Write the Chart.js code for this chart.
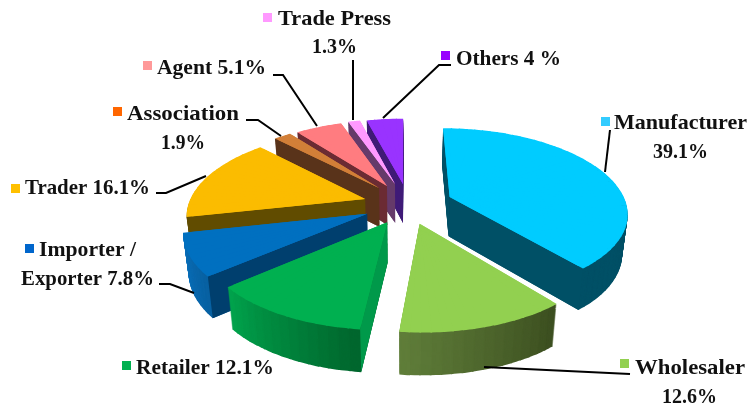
<!DOCTYPE html>
<html>
<head>
<meta charset="utf-8">
<style>
  html, body { margin: 0; padding: 0; background: #fff; }
  canvas { display: block; }
</style>
<script src="https://cdn.jsdelivr.net/npm/chart.js@4/dist/chart.umd.min.js"></script>
</head>
<body>
<canvas id="myChart" width="751" height="410"></canvas>
<script>
// slices, clockwise from twelve o'clock
const categories = ["Manufacturer", "Wholesaler", "Retailer", "Importer / Exporter", "Trader", "Association", "Agent", "Trade Press", "Others"];
const shares = [39.1, 12.6, 12.1, 7.8, 16.1, 1.9, 5.1, 1.3, 4];

const topColors = ["#00ccff", "#92d050", "#00b050", "#0070c0", "#fbbc00", "#d27f38", "#ff7c80", "#ff99ff", "#9933ff"];
const markerColors = ["#33ccff", "#92d050", "#00b050", "#0066cc", "#ffc000", "#ff6600", "#ff9999", "#ff99ff", "#9900ff"];
// outer wall, start of slice -> end of slice
const rimColors = [["#005066", "#005066"], ["#3c4e20", "#607f3a"], ["#00652d", "#00a44d"], ["#0860a0", "#0a72be"], ["#614c00", "#614c00"], ["#59331a", "#59331a"], ["#6b2b33", "#6b2b33"], ["#653a6a", "#653a6a"], ["#3f1a77", "#3f1a77"]];
const sideColors = ["#005066", "#3c4e20", "#00994a", "#003f6e", "#614c00", "#59331a", "#6b2b33", "#653a6a", "#3f1a77"];

// how far each slice is pulled out, in radii (x, towards the viewer)
const explodeU = [0.262, 0.085, -0.091, -0.204, -0.222, -0.146, -0.100, -0.053, -0.006];
const explodeV = [-0.097, 0.218, 0.200, 0.105, -0.072, -0.211, -0.237, -0.263, -0.263];

// back to front
const paintOrder = [8, 7, 6, 5, 4, 0, 3, 1, 2];

const labelFont = "bold 22px 'Liberation Serif'";
// each text line: string, left, baseline, width
const labelBoxes = [
    { i: 0, box: [601, 117], lines: [["Manufacturer", 614, 129, 133], ["39.1%", 653, 158, 55]], leader: [[610, 130], [605, 172]] },
    { i: 1, box: [620, 359], lines: [["Wholesaler", 635, 374, 110], ["12.6%", 662, 403, 55]], leader: [[484, 367], [630, 374]] },
    { i: 2, box: [122, 361], lines: [["Retailer 12.1%", 136, 374, 138]], leader: [] },
    { i: 3, box: [25, 244], lines: [["Importer /", 39, 256, 97], ["Exporter 7.8%", 21, 285, 133]], leader: [[159, 284], [170, 284], [194, 293]] },
    { i: 4, box: [11, 184], lines: [["Trader 16.1%", 25, 194, 125]], leader: [[156, 193], [166, 193], [206, 176]] },
    { i: 5, box: [113, 107], lines: [["Association", 127, 120, 112], ["1.9%", 161, 149, 44]], leader: [[246, 120], [258, 120], [281, 136]] },
    { i: 6, box: [143, 61], lines: [["Agent 5.1%", 157, 74, 109]], leader: [[273, 75], [283, 75], [317, 126]] },
    { i: 7, box: [263, 13], lines: [["Trade Press", 278, 25, 113], ["1.3%", 312, 53, 45]], leader: [[353, 60], [353, 120]] },
    { i: 8, box: [441, 51], lines: [["Others 4 %", 456, 65, 105]], leader: [[451, 65], [439, 65], [383, 118]] }
];

// perspective of the ground plane
const cx = 404, cy = 205, scaleX = 177, scaleY = 83, persp = 0.17, depth = 39.5;

function project(u, v, z) {
    const k = 1 - persp * v;
    const x = cx + scaleX * u / k;
    const y = cy + scaleY * v / k;
    return [cx + (x - cx) * (1 - 0.025 * z), y + depth * (1 + 0.07 * v) * z];
}

function mix(a, b, t) {
    const pa = parseInt(a.slice(1), 16), pb = parseInt(b.slice(1), 16);
    const c = [16, 8, 0].map(s => Math.round(((pa >> s) & 255) * (1 - t) + ((pb >> s) & 255) * t));
    return `rgb(${c[0]},${c[1]},${c[2]})`;
}

// draws one narrow piece of an arc element, mapped onto the ground plane at height z
function drawPiece(ctx, arc, i, a0, a1, z, color) {
    const r = arc.outerRadius;
    const eu = explodeU[i], ev = explodeV[i];
    const O = project(eu, ev, z);
    const A = project(eu + Math.cos(a0), ev + Math.sin(a0), z);
    const B = project(eu + Math.cos(a1), ev + Math.sin(a1), z);
    const s1x = r * Math.cos(a0), s1y = r * Math.sin(a0);
    const s2x = r * Math.cos(a1), s2y = r * Math.sin(a1);
    const d1x = A[0] - O[0], d1y = A[1] - O[1], d2x = B[0] - O[0], d2y = B[1] - O[1];
    const det = s1x * s2y - s2x * s1y;
    const a = (d1x * s2y - d2x * s1y) / det, c = (d2x * s1x - d1x * s2x) / det;
    const b = (d1y * s2y - d2y * s1y) / det, d = (d2y * s1x - d1y * s2x) / det;

    ctx.save();
    ctx.setTransform(a, b, c, d, O[0] - a * arc.x - c * arc.y, O[1] - b * arc.x - d * arc.y);
    const saved = [arc.startAngle, arc.endAngle, arc.circumference, arc.options];
    arc.startAngle = a0;
    arc.endAngle = a1;
    arc.circumference = a1 - a0;
    arc.options = { ...saved[3], backgroundColor: color, borderWidth: 0 };
    arc.draw(ctx);
    [arc.startAngle, arc.endAngle, arc.circumference, arc.options] = saved;
    ctx.restore();
}

function drawSlice(ctx, arc, i) {
    const start = arc.startAngle, end = arc.endAngle;
    const u = explodeU[i], v = explodeV[i];
    const step = Math.PI / 60, overlap = 0.008;
    const n = Math.max(1, Math.ceil((end - start) / step));
    const da = (end - start) / n;

    // outer wall: the slice stacked from the bottom up
    for (let z = 1; z > 0; z -= 1 / 42) {
        for (let k = 0; k < n; k++) {
            const a0 = start + k * da;
            const color = mix(rimColors[i][0], rimColors[i][1], (k + 0.5) / n);
            drawPiece(ctx, arc, i, a0, Math.min(end, a0 + da + overlap), z, color);
        }
    }

    // the straight wall that faces the viewer
    [[start, -1], [end, 1]].forEach(([a, side]) => {
        const p0 = project(u, v, 0), p1 = project(u + Math.cos(a), v + Math.sin(a), 0);
        if ((p1[0] - p0[0]) * side > 0) {
            const p2 = project(u + Math.cos(a), v + Math.sin(a), 1), p3 = project(u, v, 1);
            ctx.fillStyle = sideColors[i];
            ctx.beginPath();
            ctx.moveTo(p0[0], p0[1]);
            ctx.lineTo(p1[0], p1[1]);
            ctx.lineTo(p2[0], p2[1]);
            ctx.lineTo(p3[0], p3[1]);
            ctx.closePath();
            ctx.fill();
        }
    });

    // top face, over an inset fill so the seams between pieces don't show the wall
    const apex = project(u, v, 0);
    ctx.fillStyle = topColors[i];
    ctx.beginPath();
    ctx.moveTo(apex[0], apex[1]);
    for (let k = 0; k <= n; k++) {
        const a = start + k * da;
        const p = project(u + 0.97 * Math.cos(a), v + 0.97 * Math.sin(a), 0);
        ctx.lineTo(p[0], p[1]);
    }
    ctx.closePath();
    ctx.fill();
    for (let k = 0; k < n; k++) {
        const a0 = start + k * da;
        drawPiece(ctx, arc, i, a0, Math.min(end, a0 + da + overlap), 0, topColors[i]);
    }
}

function drawLabels(ctx) {
    ctx.font = labelFont;
    ctx.textBaseline = "alphabetic";
    ctx.textAlign = "left";
    labelBoxes.forEach(l => {
        ctx.strokeStyle = "#000";
        ctx.lineWidth = 2;
        if (l.leader.length) {
            ctx.beginPath();
            l.leader.forEach((p, j) => j ? ctx.lineTo(p[0], p[1]) : ctx.moveTo(p[0], p[1]));
            ctx.stroke();
        }
        ctx.fillStyle = markerColors[l.i];
        ctx.fillRect(l.box[0], l.box[1], 9, 9);
        ctx.fillStyle = "#111";
        l.lines.forEach(t => {
            // stretch to the measured width of the line
            ctx.save();
            ctx.translate(t[1], t[2]);
            ctx.scale(t[3] / ctx.measureText(t[0]).width, 1);
            ctx.fillText(t[0], 0, 0);
            ctx.restore();
        });
    });
}

const pie3d = {
    id: "pie3d",
    // the library's arc elements are drawn here instead of in its flat pass
    beforeDatasetsDraw(chart) {
        const ctx = chart.ctx;
        const arcs = chart.getDatasetMeta(0).data;
        paintOrder.forEach(i => drawSlice(ctx, arcs[i], i));
        drawLabels(ctx);
        return false;
    }
};

new Chart(document.getElementById("myChart"), {
    type: "pie",
    data: {
        labels: categories,
        datasets: [{ data: shares, backgroundColor: topColors, borderWidth: 0 }]
    },
    options: {
        responsive: false,
        animation: false,
        events: [],
        plugins: { legend: { display: false }, tooltip: { enabled: false } }
    },
    plugins: [pie3d]
});
</script>
</body>
</html>
